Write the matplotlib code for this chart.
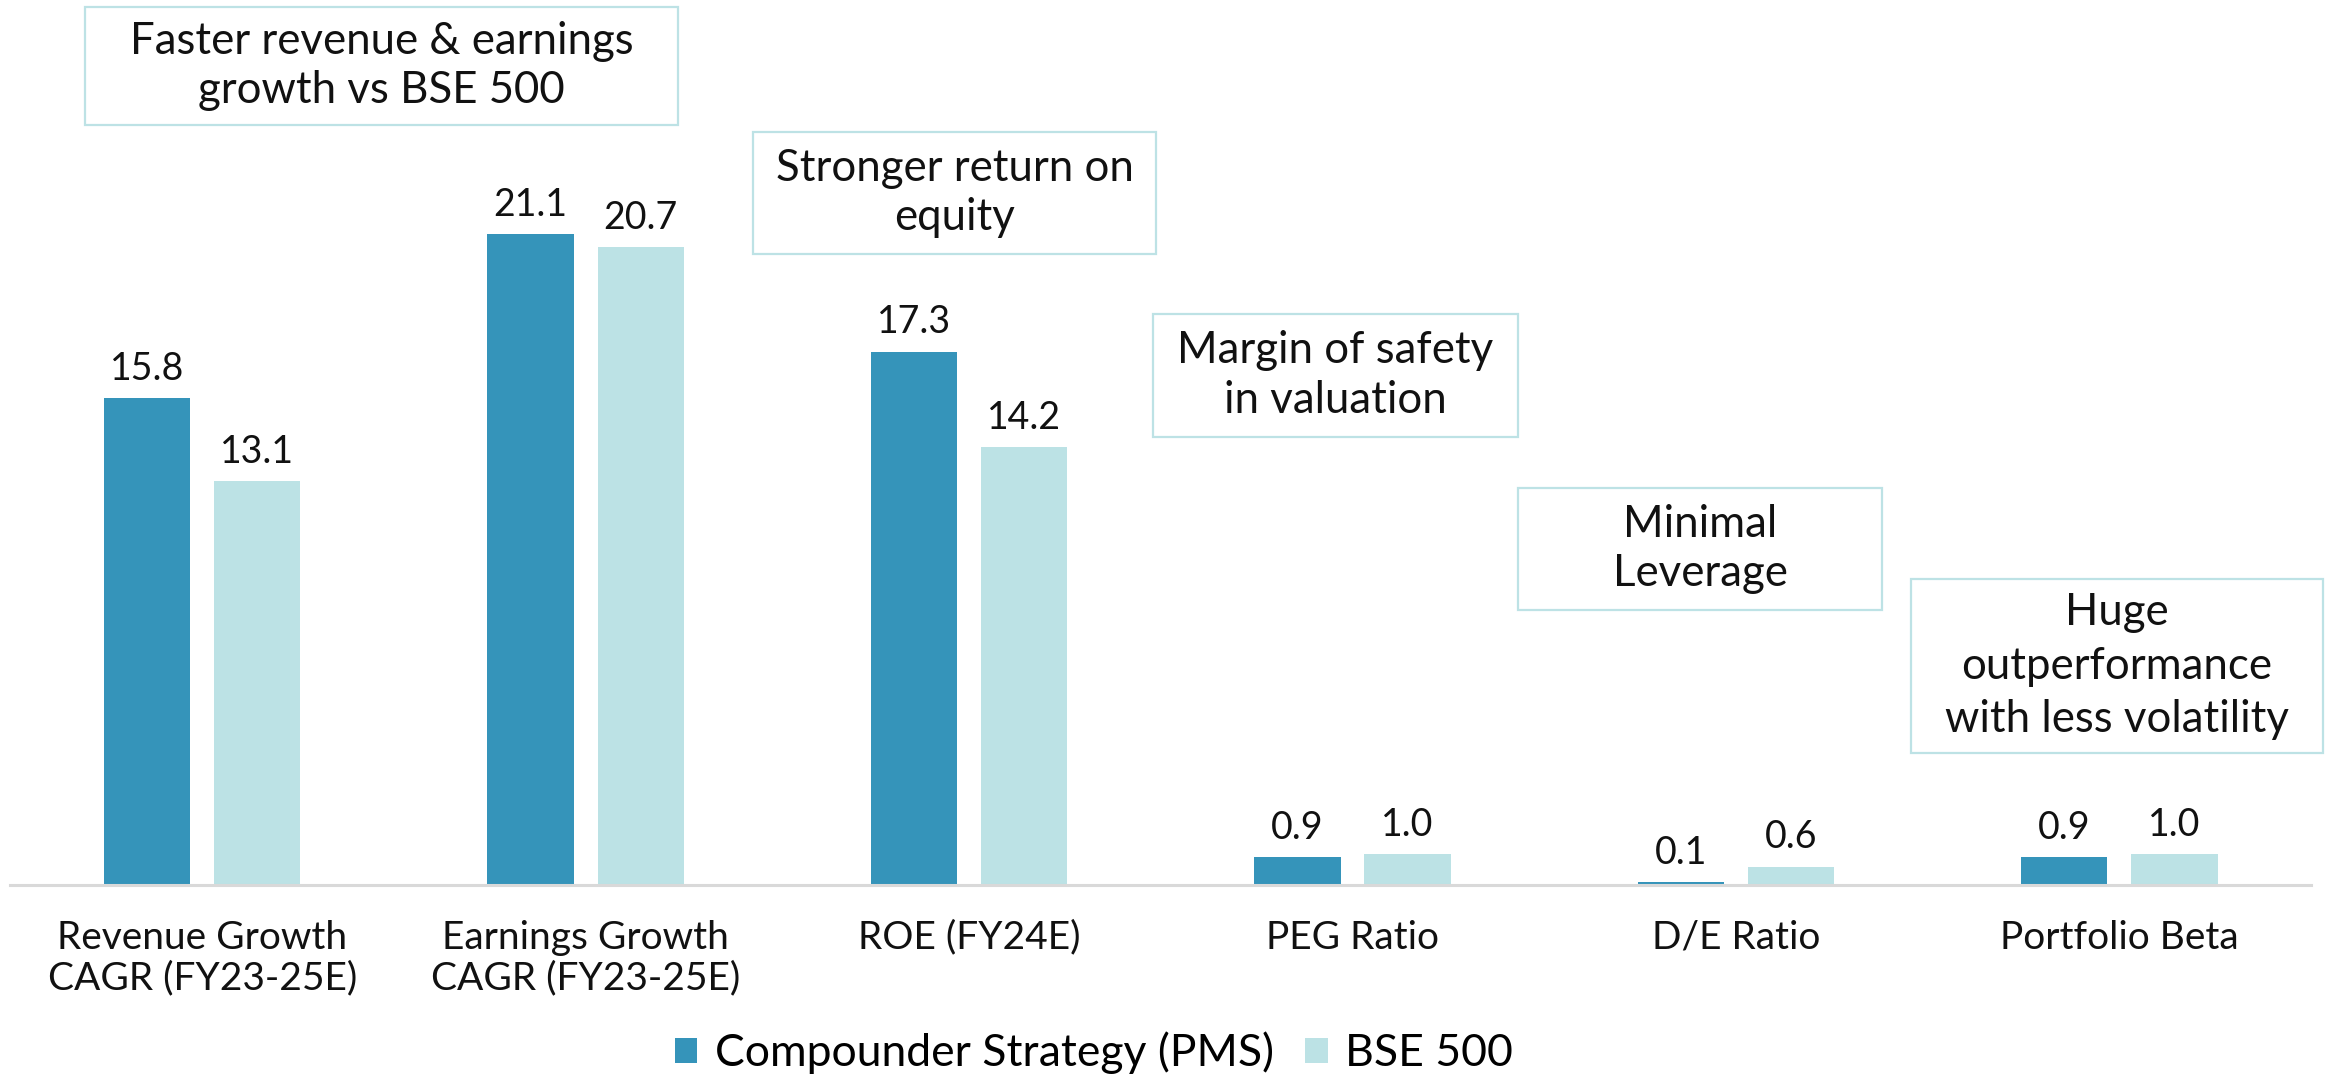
import matplotlib
matplotlib.use("Agg")
import matplotlib.pyplot as plt
from matplotlib import font_manager
from matplotlib.patches import Rectangle
import numpy as np

# ---- data ----
categories = ["Revenue Growth\nCAGR (FY23-25E)", "Earnings Growth\nCAGR (FY23-25E)",
              "ROE (FY24E)", "PEG Ratio", "D/E Ratio", "Portfolio Beta"]
pms_values = [15.8, 21.1, 17.3, 0.9, 0.1, 0.9]
bse_values = [13.1, 20.7, 14.2, 1.0, 0.6, 1.0]
series_names = ["Compounder Strategy (PMS)", "BSE 500"]
callouts = ["Faster revenue & earnings\ngrowth vs BSE 500",
            "Stronger return on\nequity",
            "Margin of safety\nin valuation",
            "Minimal\nLeverage",
            "Huge\noutperformance\nwith less volatility"]

# ---- style / layout ----
available = {f.name for f in font_manager.fontManager.ttflist}
family = "DejaVu Sans"
for cand in ["Lato", "Open Sans", "Noto Sans", "Liberation Sans"]:
    if cand in available:
        family = cand
        break
plt.rcParams["font.family"] = [family, "DejaVu Sans"]

DARK = "#3594BA"
LIGHT = "#BCE2E5"
BOX_EDGE = "#BDE2E5"
TXT = "#111111"

# callout boxes in figure fractions: (x0, y0, x1, y1), plus line spacing
box_layout = [(0.0364, 0.8837, 0.2907, 0.9935),
              (0.3227, 0.7637, 0.4956, 0.8772),
              (0.4943, 0.5935, 0.6506, 0.7079),
              (0.6506, 0.4326, 0.8068, 0.5460),
              (0.8191, 0.2995, 0.9957, 0.4614)]
box_linespacing = [1.27, 1.27, 1.27, 1.27, 1.37]

fig = plt.figure(figsize=(23.33, 10.75), dpi=100)
ax = fig.add_axes([0.0045, 0.1767, 0.9861, 0.8233])

x = np.arange(len(categories))
w = 0.225
off = 0.1436
b1 = ax.bar(x - off, pms_values, w, color=DARK, label=series_names[0])
b2 = ax.bar(x + off, bse_values, w, color=LIGHT, label=series_names[1])

for bars, vals in ((b1, pms_values), (b2, bse_values)):
    for rect, v in zip(bars, vals):
        ax.annotate(f"{v:.1f}", (rect.get_x() + rect.get_width() / 2, rect.get_height()),
                    xytext=(0, 13), textcoords="offset points",
                    ha="center", va="baseline", fontsize=27, color=TXT)

ax.set_xlim(-0.5, len(categories) - 0.5)
ax.set_ylim(0, 28.7)
ax.set_xticks(x)
ax.set_xticklabels(categories, fontsize=28, color=TXT, linespacing=1.15)
ax.tick_params(axis="x", length=0, pad=25)
ax.set_yticks([])
for s in ["top", "right", "left"]:
    ax.spines[s].set_visible(False)
ax.spines["bottom"].set_color("#D9D9D9")
ax.spines["bottom"].set_linewidth(2.2)

for (x0, y0, x1, y1), ls, txt in zip(box_layout, box_linespacing, callouts):
    fig.patches.append(Rectangle((x0, y0), x1 - x0, y1 - y0, transform=fig.transFigure,
                                 facecolor="white", edgecolor=BOX_EDGE, linewidth=1.6))
    fig.text((x0 + x1) / 2, (y0 + y1) / 2, txt, ha="center", va="center",
             fontsize=31.5, color=TXT, linespacing=ls)

fig.legend(handles=[b1, b2], labels=series_names, loc="center", ncol=2,
           bbox_to_anchor=(0.469, 0.0205), frameon=False, fontsize=32,
           handlelength=0.5, handleheight=0.5, handletextpad=0.4, columnspacing=0.7)

fig.savefig("out.png", dpi=100)
